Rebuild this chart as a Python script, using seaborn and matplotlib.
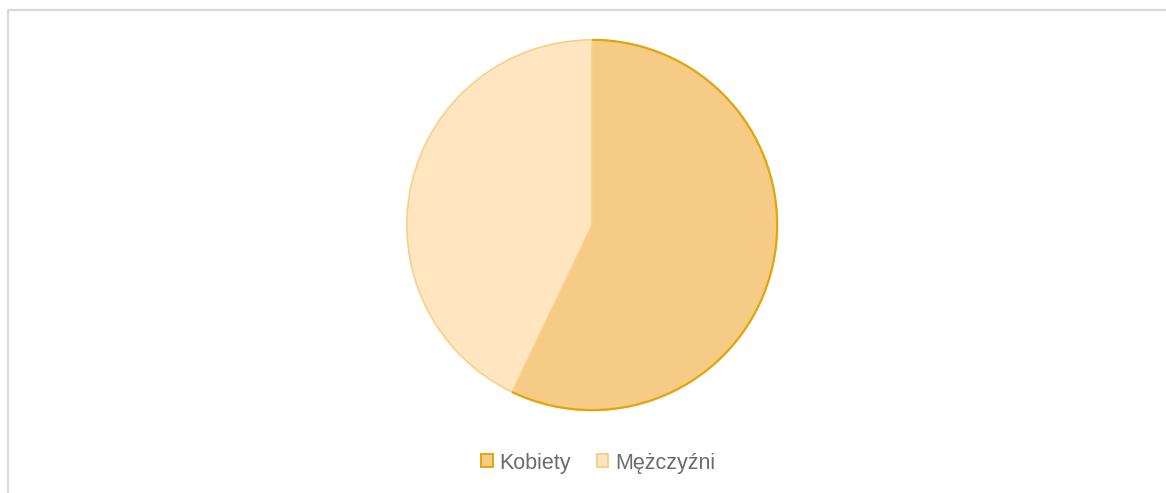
import matplotlib
matplotlib.use("Agg")
import matplotlib.pyplot as plt
import seaborn as sns
from matplotlib.lines import Line2D
from matplotlib.patches import Patch, Arc

# data
labels = ["Kobiety", "Mężczyźni"]
shares = [57.1, 42.9]
fills = ["#F6CB85", "#FFE5C0"]
edges = ["#E0A60C", "#F8D08C"]

sns.set_theme(style="white")
plt.rcParams["font.family"] = ["Liberation Sans", "DejaVu Sans"]

fig = plt.figure(figsize=(11.66, 4.93), dpi=100)
fig.patch.set_facecolor("white")

# pie axes: centre ~(592, 225) px, radius ~187 px
W, H = 1166, 493
cx, cy, r = 592, H - 225, 187
ax = fig.add_axes([(cx - r) / W, (cy - r) / H, 2 * r / W, 2 * r / H])

wedges, _ = ax.pie(shares, colors=fills, startangle=90, counterclock=False,
                   wedgeprops=dict(linewidth=1.2, edgecolor=edges[1]))

# dark gold outline only along the outer arc of the first slice
end = 90 - 360 * shares[0] / sum(shares)
ax.add_patch(Arc((0, 0), 2, 2, theta1=end, theta2=90, color=edges[0], lw=1.6, zorder=4))

ax.set_aspect("equal")
ax.set_xlim(-1.01, 1.01)
ax.set_ylim(-1.01, 1.01)
ax.axis("off")

# chart area frame (only left and top edges are in view)
fig.add_artist(Line2D([7.5 / W, 7.5 / W], [0, 1 - 9.5 / H],
                      transform=fig.transFigure, color="#D9D9D9", lw=1.6))
fig.add_artist(Line2D([7.5 / W, 1], [1 - 9.5 / H, 1 - 9.5 / H],
                      transform=fig.transFigure, color="#D9D9D9", lw=1.6))

handles = [Patch(facecolor=f, edgecolor=e, linewidth=1.4) for f, e in zip(fills, edges)]
leg = fig.legend(handles, labels, loc="center", bbox_to_anchor=(598 / W, 30 / H),
                 ncol=2, frameon=False, fontsize=15.5, handlelength=0.55,
                 handleheight=0.55, handletextpad=0.3, columnspacing=1.2)
for t in leg.get_texts():
    t.set_color("#6B6B6B")

fig.savefig("out.png", dpi=100, facecolor="white")
